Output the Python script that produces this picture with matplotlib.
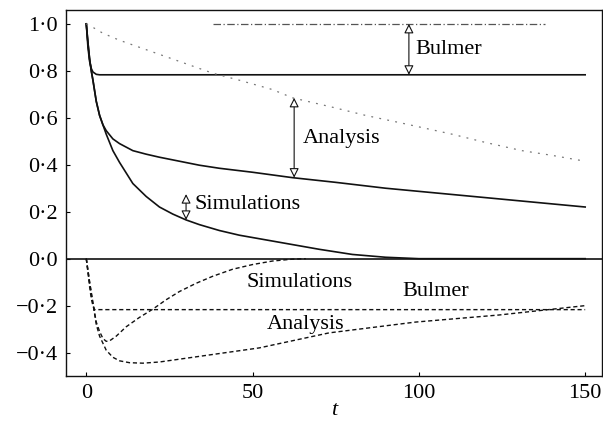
import matplotlib
matplotlib.use("Agg")
import matplotlib.pyplot as plt
from matplotlib.ticker import FuncFormatter

plt.rcParams["font.family"] = ["Liberation Serif", "DejaVu Serif"]

# upper panel: solid curves
bulmer_t = [0, 0.5, 1, 1.5, 2, 3, 4, 6, 150]
bulmer_y = [1.0, 0.90, 0.84, 0.81, 0.795, 0.785, 0.783, 0.783, 0.783]

sim_t = [0, 0.5, 1, 1.5, 2, 3, 4, 5, 6, 8, 10, 14, 18, 22, 26, 30, 34, 40,
         46, 52, 60, 70, 80, 90, 100, 150]
sim_y = [1.0, 0.92, 0.85, 0.80, 0.76, 0.67, 0.61, 0.57, 0.53, 0.46, 0.41,
         0.32, 0.265, 0.22, 0.19, 0.165, 0.145, 0.12, 0.10, 0.085, 0.065,
         0.04, 0.018, 0.006, 0.0, 0.0]

ana_t = [0, 0.5, 1, 1.5, 2, 3, 4, 5, 6, 8, 10, 14, 18, 22, 28, 34, 40, 50,
         62, 75, 90, 105, 120, 135, 150]
ana_y = [1.0, 0.92, 0.85, 0.80, 0.76, 0.67, 0.61, 0.57, 0.545, 0.51, 0.49,
         0.46, 0.445, 0.432, 0.415, 0.398, 0.385, 0.368, 0.345, 0.325, 0.30,
         0.28, 0.26, 0.24, 0.22]

# upper panel: faint dotted reference curves
ana_ref_t = [0, 2, 5, 10, 15, 20, 28, 38, 46, 56, 62, 74, 84, 94, 102, 110,
             120, 131, 140, 150]
ana_ref_y = [1.0, 0.985, 0.96, 0.93, 0.905, 0.88, 0.84, 0.79, 0.76, 0.72,
             0.685, 0.645, 0.61, 0.58, 0.555, 0.53, 0.495, 0.46, 0.44, 0.415]
bulmer_ref_t = [38, 138]
bulmer_ref_y = [1.0, 1.0]

# lower panel: dashed curves
sim_low_t = [0, 0.5, 1, 2, 3, 4, 5, 6, 7, 9, 12, 16, 20, 24, 28, 33, 38, 44,
             50, 56, 62, 66]
sim_low_y = [0, -0.05, -0.10, -0.19, -0.27, -0.31, -0.34, -0.352, -0.35,
             -0.33, -0.29, -0.25, -0.215, -0.175, -0.14, -0.105, -0.075,
             -0.045, -0.025, -0.01, -0.002, 0]

bulmer_low_t = [0, 0.5, 1, 1.5, 2, 2.5, 150]
bulmer_low_y = [0, -0.06, -0.12, -0.17, -0.20, -0.217, -0.217]

ana_low_t = [0, 0.5, 1, 2, 3, 4, 6, 8, 10, 13, 17, 22, 27, 37, 52, 73, 99,
             124, 150]
ana_low_y = [0, -0.05, -0.10, -0.19, -0.28, -0.33, -0.39, -0.42, -0.435,
             -0.443, -0.445, -0.44, -0.43, -0.41, -0.38, -0.316, -0.27,
             -0.24, -0.20]

# gap arrows: (t, lower end, upper end)
arrows = [(97, 0.783, 1.0), (62.5, 0.345, 0.685), (30, 0.165, 0.275)]

x_ticks = [0, 50, 100, 150]
y_ticks = [-0.4, -0.2, 0.0, 0.2, 0.4, 0.6, 0.8, 1.0]


def dot_fmt(v, _pos):
    return f"{v:.1f}".replace(".", "\u00b7").replace("-", "\u2212")


fig = plt.figure(figsize=(6.03, 4.24), dpi=100)
ax = fig.add_axes([0.110, 0.113, 0.888, 0.864])

ink = "#111111"
ax.plot(bulmer_t, bulmer_y, color=ink, lw=1.2)
ax.plot(sim_t, sim_y, color=ink, lw=1.2)
ax.plot(ana_t, ana_y, color=ink, lw=1.2)

ax.plot(ana_ref_t, ana_ref_y, color="#777777", lw=0.9, ls=(0, (1.5, 5)))
ax.plot(bulmer_ref_t, bulmer_ref_y, color="#555555", lw=0.9, ls=(0, (6, 2, 1, 2)))

dash = (0, (3, 2))
ax.plot(sim_low_t, sim_low_y, color=ink, lw=1.0, ls=dash)
ax.plot(bulmer_low_t, bulmer_low_y, color=ink, lw=1.0, ls=dash)
ax.plot(ana_low_t, ana_low_y, color=ink, lw=1.0, ls=dash)

ax.axhline(0.0, color=ink, lw=1.2)

for t, lo, hi in arrows:
    ax.annotate("", xy=(t, hi), xytext=(t, lo),
                arrowprops=dict(arrowstyle="<|-|>", fc="white", ec=ink,
                                lw=0.8, mutation_scale=14,
                                shrinkA=0, shrinkB=0))

fs = 16
ax.text(99, 0.89, "Bulmer", fontsize=fs, va="center", ha="left")
ax.text(65, 0.51, "Analysis", fontsize=fs, va="center", ha="left")
ax.text(32.5, 0.23, "Simulations", fontsize=fs, va="center", ha="left")
ax.text(64, -0.10, "Simulations", fontsize=fs, va="center", ha="center")
ax.text(105, -0.14, "Bulmer", fontsize=fs, va="center", ha="center")
ax.text(66, -0.28, "Analysis", fontsize=fs, va="center", ha="center")

ax.set_xlim(-6, 155)
ax.set_ylim(-0.5, 1.06)
ax.set_xticks(x_ticks)
ax.set_yticks(y_ticks)
ax.yaxis.set_major_formatter(FuncFormatter(dot_fmt))
ax.tick_params(direction="in", length=3, width=0.8, labelsize=fs, pad=6)
ax.set_xlabel("t", fontsize=fs, fontstyle="italic", labelpad=-2)
for s in ax.spines.values():
    s.set_linewidth(1.0)
    s.set_color(ink)

fig.savefig("out.png", dpi=100)
